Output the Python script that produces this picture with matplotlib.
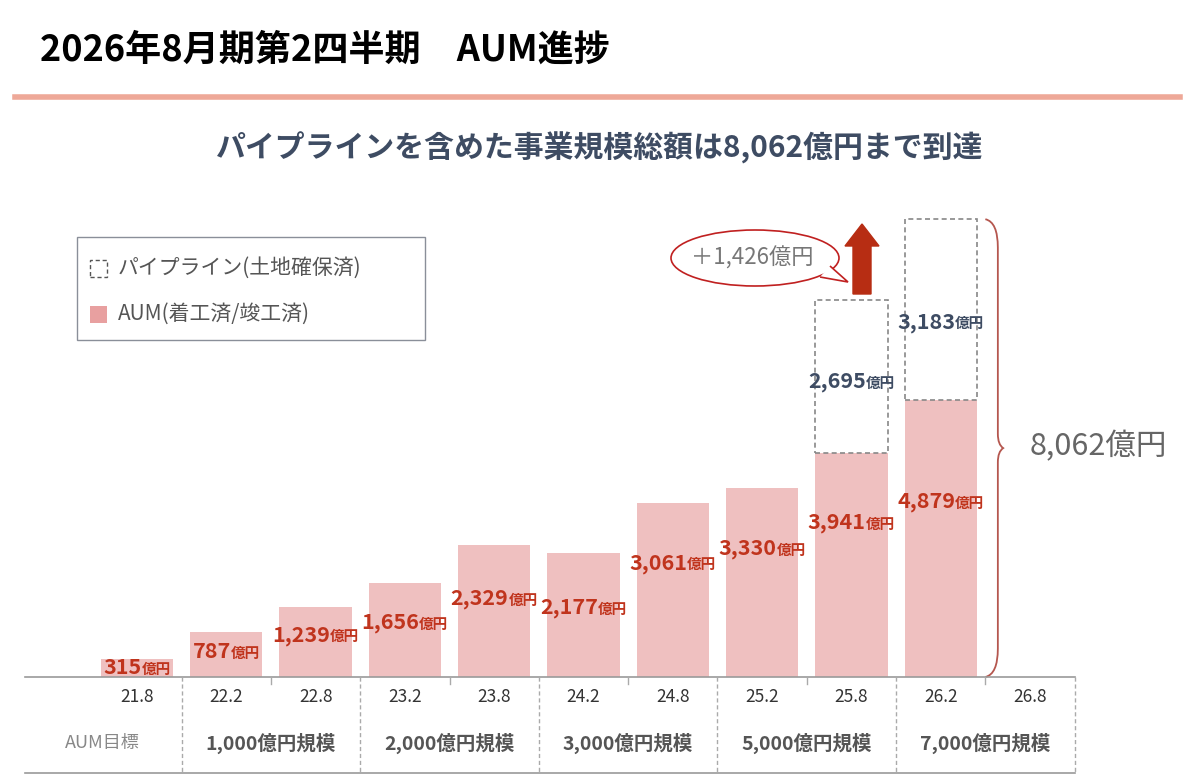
import matplotlib.pyplot as plt
import matplotlib.patches as mpatches
from matplotlib.path import Path
from matplotlib.offsetbox import TextArea, HPacker, AnnotationBbox

plt.rcParams['font.family'] = ['Noto Sans CJK JP', 'DejaVu Sans']

periods = ['21.8', '22.2', '22.8', '23.2', '23.8', '24.2', '24.8', '25.2', '25.8', '26.2', '26.8']
aum = [315, 787, 1239, 1656, 2329, 2177, 3061, 3330, 3941, 4879]
pipeline = {8: 2695, 9: 3183}
targets = ['1,000億円規模', '2,000億円規模', '3,000億円規模', '5,000億円規模', '7,000億円規模']
total = 8062
increase = '＋1,426億円'

bar_col = '#efc0c0'
red = '#c0341d'
navy = '#3e4c63'

W, H = 1200, 780
fig = plt.figure(figsize=(12, 7.8), dpi=100)

def fx(px):
    return px / W

def fy(py):
    return 1 - py / H

# header
fig.text(fx(40), fy(50), '2026年8月期第2四半期　AUM進捗', fontsize=26, fontweight='bold', va='center')
fig.add_artist(plt.Line2D([fx(15), fx(1180)], [fy(97), fy(97)], color='#eea898', lw=4))
fig.text(fx(600), fy(148), 'パイプラインを含めた事業規模総額は8,062億円まで到達',
         fontsize=21.5, fontweight='bold', color=navy, ha='center', va='center')

# main axes
step = 89.3
left = 137 - step / 2
ax = fig.add_axes([fx(left), fy(677), fx(step * 11), (677 - 200) / H])
ax.set_xlim(-0.5, 10.5)
ax.set_ylim(0, 8400)
ax.axis('off')

bw = 0.81
ax.bar(range(len(aum)), aum, width=bw, color=bar_col)
for i, p in pipeline.items():
    ax.bar(i, p, bottom=aum[i], width=bw, facecolor='white', edgecolor='#888888',
           ls=(0, (3, 2)), lw=1.2)

def label(x, y, num, color, size):
    box = HPacker(children=[TextArea(num, textprops=dict(color=color, fontsize=size, fontweight='bold')),
                            TextArea('億円', textprops=dict(color=color, fontsize=size * 0.68, fontweight='bold'))],
                  align='baseline', pad=0, sep=0)
    ax.add_artist(AnnotationBbox(box, (x, y), frameon=False, box_alignment=(0.5, 0.5)))

drop = [140, 330, 500, 700, 950, 950, 1050, 1070, 1220, 1790]
for i, v in enumerate(aum):
    label(i, v - drop[i], f'{v:,}', red, 15.5)
for i, p in pipeline.items():
    label(i, aum[i] + p * (0.47 if i == 8 else 0.43), f'{p:,}', navy, 15.5)

# brace
bx = 9.5
top = aum[9] + pipeline[9]
mid = total / 2
verts = [(bx, top), (bx + 0.14, top - 50), (bx + 0.14, top - 500),
         (bx + 0.14, mid + 250), (bx + 0.14, mid + 60), (bx + 0.2, mid),
         (bx + 0.14, mid - 60), (bx + 0.14, mid - 250),
         (bx + 0.14, 500), (bx + 0.14, 50), (bx, 0)]
codes = [Path.MOVETO, Path.CURVE3, Path.CURVE3, Path.LINETO, Path.CURVE3, Path.CURVE3,
         Path.CURVE3, Path.CURVE3, Path.LINETO, Path.CURVE3, Path.CURVE3]
ax.add_patch(mpatches.PathPatch(Path(verts, codes), fill=False, edgecolor='#b5574f', lw=1.3, clip_on=False))
fig.text(fx(1098), fy(447), f'{total:,}億円', fontsize=22, color='#666666', ha='center', va='center')

# arrow and callout
fig.add_artist(mpatches.FancyArrow(fx(862), fy(294), 0, fy(224) - fy(294), width=fx(18),
                                   head_width=fx(34), head_length=22 / H,
                                   length_includes_head=True, color='#b72d13', transform=fig.transFigure))
fig.add_artist(mpatches.Ellipse((fx(755), fy(258)), fx(168), 56 / H, facecolor='white',
                                edgecolor='#c02020', lw=1.2, transform=fig.transFigure))
fig.add_artist(mpatches.Polygon([(fx(830), fy(266)), (fx(848), fy(282)), (fx(820), fy(277))],
                                closed=False, facecolor='white', edgecolor='#c02020', lw=1.2,
                                transform=fig.transFigure))
fig.text(fx(752), fy(258), increase, fontsize=16, color='#777777', ha='center', va='center')

# legend
fig.add_artist(mpatches.Rectangle((fx(77), fy(340)), fx(348), 103 / H, facecolor='white',
                                  edgecolor='#8a8f99', lw=1, transform=fig.transFigure))
fig.add_artist(mpatches.Rectangle((fx(90), fy(277)), fx(17), 17 / H, facecolor='white',
                                  edgecolor='#555555', ls=(0, (3, 2)), lw=1, transform=fig.transFigure))
fig.add_artist(mpatches.Rectangle((fx(90), fy(323)), fx(17), 17 / H, facecolor='#e8a0a0',
                                  edgecolor='none', transform=fig.transFigure))
fig.text(fx(118), fy(268), 'パイプライン(土地確保済)', fontsize=15, color='#555555', va='center')
fig.text(fx(118), fy(314), 'AUM(着工済/竣工済)', fontsize=15, color='#555555', va='center')

# bottom table
line_col = '#9a9a9a'
fig.add_artist(plt.Line2D([fx(25), fx(1075)], [fy(677), fy(677)], color=line_col, lw=1.2))
fig.add_artist(plt.Line2D([fx(25), fx(1075)], [fy(773), fy(773)], color=line_col, lw=1.2))
for k in range(6):
    xs = 137 + step / 2 + 2 * step * k
    fig.add_artist(plt.Line2D([fx(xs), fx(xs)], [fy(677), fy(773)], color='#aaaaaa', lw=1, ls=(0, (3, 2))))
    if k < 5:
        xt = xs + step
        fig.add_artist(plt.Line2D([fx(xt), fx(xt)], [fy(677), fy(684)], color='#aaaaaa', lw=1))
        fig.text(fx(xs + step), fy(743), targets[k], fontsize=14, fontweight='bold',
                 color='#555555', ha='center', va='center')
for i, p in enumerate(periods):
    fig.text(fx(137 + step * i), fy(697), p, fontsize=12.5, color='#333333', ha='center', va='center')
fig.text(fx(102), fy(743), 'AUM目標', fontsize=13, color='#888888', ha='center', va='center')

fig.savefig('out.png', dpi=100)
